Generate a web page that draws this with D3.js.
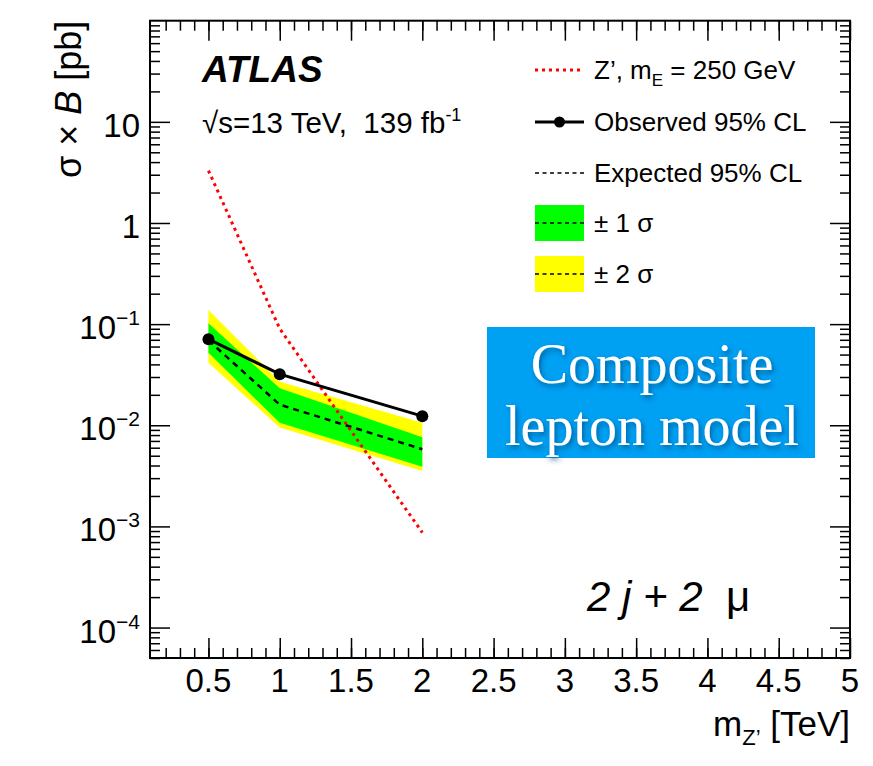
<!DOCTYPE html>
<html>
<head>
<meta charset="utf-8">
<script src="https://cdn.jsdelivr.net/npm/d3@7"></script>
<style>
  body { margin: 0; background: #fff; }
  svg { display: block; font-family: "Liberation Sans", Arial, Helvetica, sans-serif; }
  text { white-space: pre; }
</style>
</head>
<body>
<svg id="chart" width="873" height="766"></svg>
<script>
// mass points [TeV]
var masses = [0.5, 1, 2];
var observed = [0.071, 0.032, 0.0123];
var expected = [0.069, 0.016, 0.0058];
var band1Up = [0.102, 0.0232, 0.0076];
var band1Dn = [0.052, 0.0106, 0.0039];
var band2Up = [0.138, 0.027, 0.0106];
var band2Dn = [0.0416, 0.0095, 0.00353];

// Z' model, m_E = 250 GeV
var zMasses = [0.5, 1, 1.5, 2];
var zXsec = [3.3, 0.09, 0.0088, 0.00087];

var xTickLabels = [0.5, 1, 1.5, 2, 2.5, 3, 3.5, 4, 4.5, 5];
var yTickExp = [1, 0, -1, -2, -3, -4];
var legendLabels = ["Observed 95% CL", "Expected 95% CL", "\u00b1 1 \u03c3", "\u00b1 2 \u03c3"];

var svg = d3.select('#chart');
var fLeft = 150, fRight = 850, fTop = 20.7, fBottom = 658;

var x = d3.scaleLinear().domain([0.09, 5]).range([fLeft, fRight]);
var y = d3.scaleLog().domain([5e-5, 100]).range([fBottom, fTop]);

var defs = svg.append('defs');
defs.append('clipPath').attr('id', 'frameClip')
    .append('rect').attr('x', fLeft).attr('y', fTop).attr('width', fRight - fLeft).attr('height', fBottom - fTop);
var shadow = defs.append('filter').attr('id', 'txtShadow')
    .attr('x', '-10%').attr('y', '-20%').attr('width', '130%').attr('height', '150%');
shadow.append('feDropShadow').attr('dx', 2).attr('dy', 3).attr('stdDeviation', 2.5)
    .attr('flood-color', '#003060').attr('flood-opacity', 0.55);

var plot = svg.append('g').attr('clip-path', 'url(#frameClip)');

// bands
var area = function (up, dn) {
    return d3.area()
        .x((d, i) => x(masses[i]))
        .y0((d, i) => y(dn[i]))
        .y1((d, i) => y(up[i]))(masses);
};
plot.append('path').attr('d', area(band2Up, band2Dn)).attr('fill', '#ffff00');
plot.append('path').attr('d', area(band1Up, band1Dn)).attr('fill', '#00ff00');

var line = d3.line().x(d => x(d[0])).y(d => y(d[1]));

plot.append('path')
    .attr('d', line(masses.map((m, i) => [m, expected[i]])))
    .attr('fill', 'none').attr('stroke', '#000').attr('stroke-width', 2.5)
    .attr('stroke-dasharray', '6,5');

plot.append('path')
    .attr('d', line(zMasses.map((m, i) => [m, zXsec[i]])))
    .attr('fill', 'none').attr('stroke', '#ff0000').attr('stroke-width', 3)
    .attr('stroke-dasharray', '3,4');

plot.append('path')
    .attr('d', line(masses.map((m, i) => [m, observed[i]])))
    .attr('fill', 'none').attr('stroke', '#000').attr('stroke-width', 3);

plot.selectAll('circle.obs')
    .data(masses)
    .enter().append('circle')
    .attr('class', 'obs')
    .attr('cx', d => x(d))
    .attr('cy', (d, i) => y(observed[i]))
    .attr('r', 6)
    .attr('fill', '#000');

// axes (ticks inside the frame, ROOT style)
var xMinor = d3.range(2, 50).map(d => d / 10);
var yMajor = yTickExp.map(e => Math.pow(10, e));
var yMinor = [];
for (var e = -5; e <= 1; e++) {
    for (var k = 2; k <= 9; k++) {
        var v = k * Math.pow(10, e);
        if (v >= 5e-5 && v <= 100) yMinor.push(v);
    }
}

function styleAxis(g) {
    g.select('.domain').remove();
    g.selectAll('.tick line').attr('stroke', '#000').attr('stroke-width', 1.5);
    g.selectAll('.tick text').remove();
}

svg.append('g').attr('transform', 'translate(0,' + fBottom + ')')
    .call(d3.axisBottom(x).tickValues(xMinor).tickSize(-10)).call(styleAxis);
svg.append('g').attr('transform', 'translate(0,' + fBottom + ')')
    .call(d3.axisBottom(x).tickValues(xTickLabels).tickSize(-20)).call(styleAxis);
svg.append('g').attr('transform', 'translate(0,' + fTop + ')')
    .call(d3.axisTop(x).tickValues(xMinor).tickSize(-10)).call(styleAxis);
svg.append('g').attr('transform', 'translate(0,' + fTop + ')')
    .call(d3.axisTop(x).tickValues(xTickLabels).tickSize(-20)).call(styleAxis);

svg.append('g').attr('transform', 'translate(' + fLeft + ',0)')
    .call(d3.axisLeft(y).tickValues(yMinor).tickSize(-10)).call(styleAxis);
svg.append('g').attr('transform', 'translate(' + fLeft + ',0)')
    .call(d3.axisLeft(y).tickValues(yMajor).tickSize(-20)).call(styleAxis);
svg.append('g').attr('transform', 'translate(' + fRight + ',0)')
    .call(d3.axisRight(y).tickValues(yMinor).tickSize(-10)).call(styleAxis);
svg.append('g').attr('transform', 'translate(' + fRight + ',0)')
    .call(d3.axisRight(y).tickValues(yMajor).tickSize(-20)).call(styleAxis);

// frame
svg.append('rect')
    .attr('x', fLeft).attr('y', fTop).attr('width', fRight - fLeft).attr('height', fBottom - fTop)
    .attr('fill', 'none').attr('stroke', '#000').attr('stroke-width', 2);

// x tick labels
svg.selectAll('text.xlab')
    .data(xTickLabels)
    .enter().append('text')
    .attr('class', 'xlab')
    .attr('x', d => x(d))
    .attr('y', 692)
    .attr('text-anchor', 'middle')
    .attr('font-size', 33)
    .text(d => d);

// y tick labels with exponents
yTickExp.forEach(function (ex) {
    var t = svg.append('text')
        .attr('x', 140)
        .attr('y', y(Math.pow(10, ex)) + 15)
        .attr('text-anchor', 'end')
        .attr('font-size', 33);
    if (ex === 0) {
        t.text('1');
    } else if (ex === 1) {
        t.text('10');
    } else {
        t.append('tspan').text('10');
        t.append('tspan').attr('dy', -14).attr('font-size', 21).text('\u2212' + (-ex));
    }
});

// axis titles
svg.append('text')
    .attr('x', fRight)
    .attr('y', 736)
    .attr('text-anchor', 'end')
    .attr('font-size', 35)
    .call(function (t) {
        t.append('tspan').text('m');
        t.append('tspan').attr('dy', 9).attr('font-size', 22).text('Z\u2019');
        t.append('tspan').attr('dy', -9).text(' [TeV]');
    });

svg.append('text')
    .attr('transform', 'translate(81,' + fTop + ') rotate(-90)')
    .attr('text-anchor', 'end')
    .attr('font-size', 36)
    .call(function (t) {
        t.append('tspan').text('\u03c3 \u00d7 ');
        t.append('tspan').attr('font-style', 'italic').text('B');
        t.append('tspan').text(' [pb]');
    });

// ATLAS label
svg.append('text')
    .attr('x', 202).attr('y', 82)
    .attr('font-size', 37).attr('font-weight', 'bold').attr('font-style', 'italic')
    .text('ATLAS');

svg.append('text')
    .attr('x', 202).attr('y', 133)
    .attr('font-size', 29.5)
    .call(function (t) {
        t.append('tspan').text('\u221as=13 TeV,  139 fb');
        t.append('tspan').attr('dy', -12).attr('font-size', 18).text('-1');
    });

// legend
var lx0 = 535, lx1 = 584, ltx = 594;
var leg = svg.append('g').attr('font-size', 26);

leg.append('line').attr('x1', lx0).attr('x2', lx1).attr('y1', 70).attr('y2', 70)
    .attr('stroke', '#ff0000').attr('stroke-width', 3).attr('stroke-dasharray', '3,4');
leg.append('text').attr('x', ltx).attr('y', 79)
    .call(function (t) {
        t.append('tspan').text('Z\u2019, m');
        t.append('tspan').attr('dy', 7).attr('font-size', 17).text('E');
        t.append('tspan').attr('dy', -7).text(' = 250 GeV');
    });

leg.append('line').attr('x1', lx0).attr('x2', lx1).attr('y1', 122).attr('y2', 122)
    .attr('stroke', '#000').attr('stroke-width', 3);
leg.append('circle').attr('cx', (lx0 + lx1) / 2).attr('cy', 122).attr('r', 5.5).attr('fill', '#000');
leg.append('text').attr('x', ltx).attr('y', 131).text(legendLabels[0]);

leg.append('line').attr('x1', lx0).attr('x2', lx1).attr('y1', 173).attr('y2', 173)
    .attr('stroke', '#000').attr('stroke-width', 1.5).attr('stroke-dasharray', '4,3.5');
leg.append('text').attr('x', ltx).attr('y', 182).text(legendLabels[1]);

[['#00ff00', 205, legendLabels[2]], ['#ffff00', 256, legendLabels[3]]].forEach(function (b) {
    leg.append('rect').attr('x', lx0).attr('y', b[1]).attr('width', lx1 - lx0).attr('height', 36)
        .attr('fill', b[0]);
    leg.append('line').attr('x1', lx0).attr('x2', lx1).attr('y1', b[1] + 18).attr('y2', b[1] + 18)
        .attr('stroke', '#000').attr('stroke-width', 1.5).attr('stroke-dasharray', '4,3.5');
    leg.append('text').attr('x', ltx).attr('y', b[1] + 27).text(b[2]);
});

// channel label
svg.append('text')
    .attr('x', 587).attr('y', 611)
    .attr('font-size', 42)
    .call(function (t) {
        t.append('tspan').attr('font-style', 'italic').text('2 j + 2 ');
        t.append('tspan').text(' \u03bc');
    });

// model banner
svg.append('rect')
    .attr('x', 487).attr('y', 327).attr('width', 328).attr('height', 131)
    .attr('fill', '#00a0f2');
svg.append('g')
    .attr('font-family', '"Liberation Serif", "Times New Roman", serif')
    .attr('font-size', 56)
    .attr('fill', '#fff')
    .attr('text-anchor', 'middle')
    .attr('filter', 'url(#txtShadow)')
    .selectAll('text')
    .data([['Composite', 383], ['lepton model', 445]])
    .enter().append('text')
    .attr('x', 652)
    .attr('y', d => d[1])
    .text(d => d[0]);
</script>
</body>
</html>
